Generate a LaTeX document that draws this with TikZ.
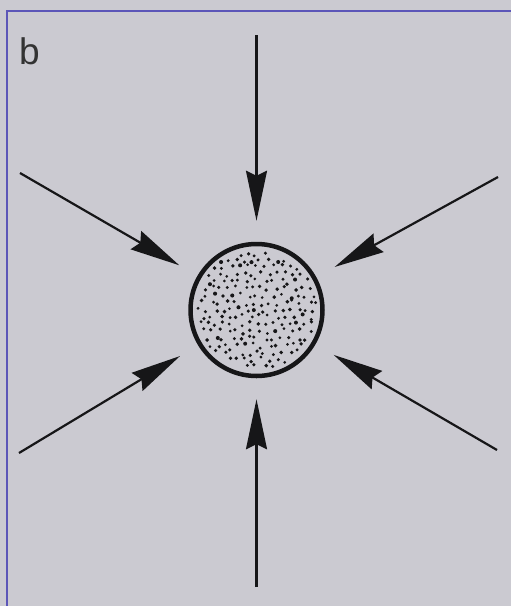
\documentclass[tikz,border=0pt]{standalone}
\usepackage{fontspec}
\setmainfont{Liberation Sans}
\usetikzlibrary{arrows.meta}
\definecolor{bgc}{RGB}{203,202,209}
\definecolor{framec}{RGB}{92,86,184}
\definecolor{inkc}{RGB}{22,22,24}
\tikzset{
  cellstyle/.style={circle, draw=inkc, fill=bgc, line width=4.5pt, minimum size=132pt, inner sep=0pt},
  flux/.style={draw=inkc, line width=2.2pt, shorten >=21pt,
    -{Stealth[length=50pt, width=21pt, inset=5pt]}},
  framestyle/.style={draw=framec, line width=1.3pt},
}
\begin{document}
\begin{tikzpicture}[x=1pt, y=-1pt]
\useasboundingbox (0,0) rectangle (511,606);
\fill[bgc] (0,0) rectangle (511,606);
% frame (top and left edges only visible)
\draw[framestyle] (511,11) -- (7,11) -- (7,606);
% label
\node[anchor=base west, inner sep=0pt, font=\fontsize{37}{40}\selectfont\addfontfeature{Color=333333}] (lab) at (19,64) {b};
% the cell
\node[cellstyle] (cell) at (256.5,310) {};
% stipple: jittered hexagonal grid
\pgfmathsetseed{11}
\foreach \ix in {-8,...,8}{
  \foreach \iy in {-9,...,9}{
    \pgfmathsetmacro\px{8.2*\ix + 4.1*mod(abs(\iy),2) + 5.5*(rnd-0.5)}
    \pgfmathsetmacro\py{7.1*\iy + 5.5*(rnd-0.5)}
    \pgfmathsetmacro\dd{sqrt(\px*\px+\py*\py)}
    \pgfmathsetmacro\dr{1.45+0.6*rnd}
    \ifdim\dd pt<60.5pt
      \fill[inkc] ([shift={(\px,\py)}]cell.center) circle (\dr pt);
    \fi
  }
}
% free ends of the arrows
\coordinate (pT) at (256.5,35);
\coordinate (pB) at (256.5,587);
\coordinate (pUL) at (20,173);
\coordinate (pUR) at (498,177);
\coordinate (pLL) at (19,453);
\coordinate (pLR) at (497,450);
\foreach \p in {pT,pB,pUL,pUR,pLL,pLR}{
  \draw[flux] (\p) -- (cell);
}
\end{tikzpicture}
\end{document}
